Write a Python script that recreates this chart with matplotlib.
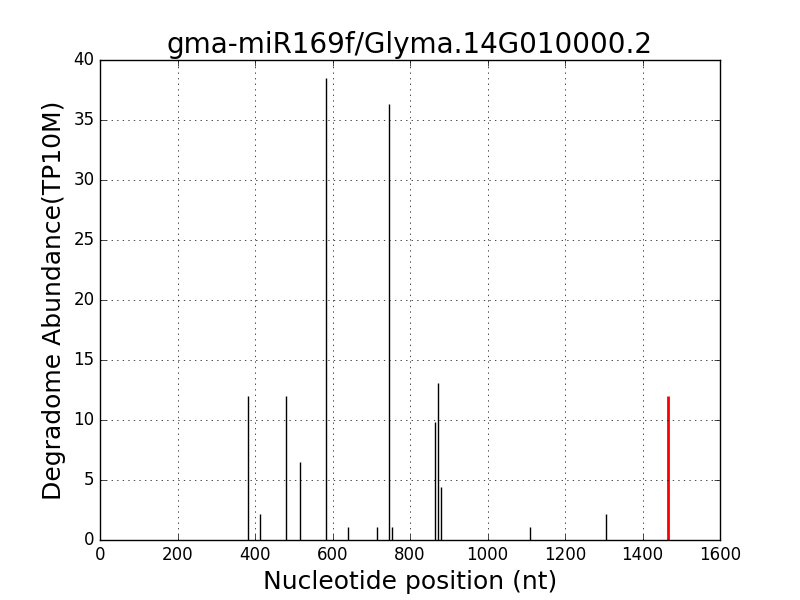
import matplotlib
matplotlib.use('Agg')
import matplotlib.pyplot as plt

# degradome peaks (position in nt, abundance in TP10M)
positions = [383, 412, 481, 517, 584, 641, 716, 747, 754, 865, 873, 880, 1110, 1307]
abundance = [12.0, 2.17, 12.0, 6.52, 38.5, 1.08, 1.08, 36.3, 1.08, 9.85, 13.1, 4.38, 1.08, 2.17]

# cleavage site of the miRNA
site_pos = [1466]
site_abund = [12.0]

plt.style.use('classic')
fig = plt.figure(figsize=(8, 6), dpi=100)
fig.patch.set_facecolor('white')
ax = fig.add_subplot(111)

ax.vlines(positions, 0, abundance, colors='black', linewidth=1)
ax.vlines(site_pos, 0, site_abund, colors='red', linewidth=2)

ax.set_xlim(0, 1600)
ax.set_ylim(0, 40)
ax.grid(True)
ax.set_title('gma-miR169f/Glyma.14G010000.2', fontsize=20)
ax.set_xlabel('Nucleotide position (nt)', fontsize=18)
ax.set_ylabel('Degradome Abundance(TP10M)', fontsize=18)

plt.savefig('out.png', dpi=100, facecolor='white')
